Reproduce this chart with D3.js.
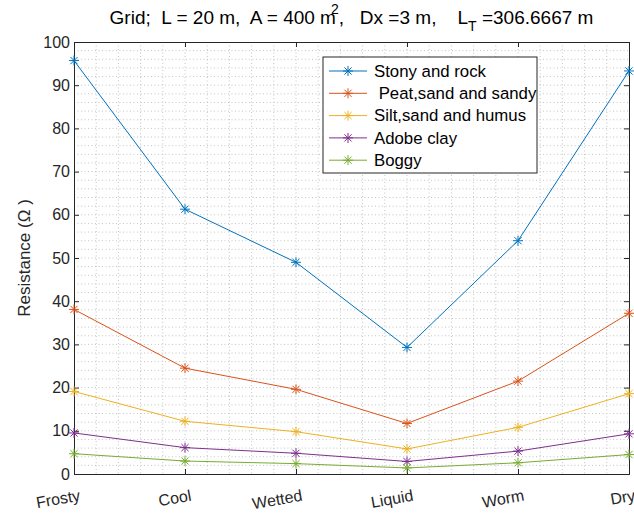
<!DOCTYPE html>
<head>
    <meta charset="utf-8">
    <style>
        body { margin: 0; background: #fff; }
        svg { position: absolute; top: 0; left: 0; font-family: 'Liberation Sans', Arial, sans-serif; }
        .axis text { font-size: 16px; fill: #262626; font-family: 'Liberation Sans', Arial, sans-serif; }
        .axis path, .axis line { stroke: #262626; }
        .grid line { stroke: #c4c4c4; stroke-dasharray: 1,2.5; }
    </style>
    <script src="https://d3js.org/d3.v7.min.js"></script>
</head>
<body>
<script>
    ////////////// Data //////////////
    const categories = ["Frosty", "Cool", "Wetted", "Liquid", "Worm", "Dry"]
    const seriesNames = ["Stony and rock", " Peat,sand and sandy", "Silt,sand and humus", "Adobe clay", "Boggy"]
    const stony = [95.7, 61.3, 49.0, 29.3, 54.0, 93.3]
    const peat = [38.1, 24.5, 19.6, 11.7, 21.5, 37.2]
    const silt = [19.1, 12.2, 9.8, 5.8, 10.8, 18.6]
    const adobe = [9.5, 6.1, 4.8, 2.9, 5.3, 9.3]
    const boggy = [4.7, 3.0, 2.4, 1.4, 2.6, 4.5]
    const yTicks = [0, 10, 20, 30, 40, 50, 60, 70, 80, 90, 100]
    const colors = ["#0072BD", "#D95319", "#EDB120", "#7E2F8E", "#77AC30"]
    const series = [stony, peat, silt, adobe, boggy]

    ////////////// Layout //////////////
    const margin = {top: 42, right: 5, bottom: 41, left: 74}
    const W = 634, H = 515
    const width = W - margin.left - margin.right,
          height = H - margin.top - margin.bottom

    const svg = d3.select("body").append("svg")
        .attr("width", W).attr("height", H)
    const g = svg.append("g")
        .attr("transform", "translate(" + margin.left + "," + margin.top + ")")

    ////////////// Scales //////////////
    const x = d3.scalePoint().domain(categories).range([0, width])
    const xIdx = d3.scaleLinear().domain([0, categories.length - 1]).range([0, width])
    const y = d3.scaleLinear().domain([0, 100]).range([height, 0])

    ////////////// Grid //////////////
    const grid = g.append("g").attr("class", "grid")
    grid.selectAll(".gy").data(d3.range(2, 100, 2)).join("line")
        .attr("x1", 0).attr("x2", width)
        .attr("y1", d => y(d)).attr("y2", d => y(d))
    grid.selectAll(".gx").data(d3.range(1, 25)).join("line")
        .attr("x1", d => xIdx(d / 5)).attr("x2", d => xIdx(d / 5))
        .attr("y1", 0).attr("y2", height)

    ////////////// Axes //////////////
    g.append("g").attr("class", "axis")
        .call(d3.axisLeft(y).tickValues(yTicks).tickSize(-5).tickPadding(4))
    g.append("g").attr("class", "axis")
        .attr("transform", "translate(" + width + ",0)")
        .call(d3.axisRight(y).tickValues(yTicks).tickSize(-5).tickFormat(""))
    g.append("g").attr("class", "axis")
        .call(d3.axisTop(x).tickSize(-5).tickFormat(""))
    const xAxis = g.append("g").attr("class", "axis")
        .attr("transform", "translate(0," + height + ")")
        .call(d3.axisBottom(x).tickSize(-5).tickFormat(""))
    xAxis.selectAll(".lbl").data(categories).join("text")
        .attr("class", "lbl")
        .attr("text-anchor", "end")
        .attr("font-size", 16.5)
        .attr("transform", d => "translate(" + (x(d) + 6) + ",21) rotate(-10)")
        .attr("dy", "0.35em")
        .text(d => d)
    g.selectAll(".axis path").attr("stroke-width", 1)

    ////////////// Lines & markers //////////////
    const line = d3.line().x((d, i) => x(categories[i])).y(d => y(d))
    const star = r => {
        const k = r * 0.72
        return "M" + -r + ",0L" + r + ",0M0," + -r + "L0," + r +
            "M" + -k + "," + -k + "L" + k + "," + k + "M" + -k + "," + k + "L" + k + "," + -k
    }
    series.forEach((s, si) => {
        g.append("path").datum(s)
            .attr("d", line).attr("fill", "none")
            .attr("stroke", colors[si]).attr("stroke-width", 1)
        g.selectAll(".m" + si).data(s).join("path")
            .attr("transform", (d, i) => "translate(" + x(categories[i]) + "," + y(d) + ")")
            .attr("d", star(5)).attr("stroke", colors[si]).attr("stroke-width", 1).attr("fill", "none")
    })

    ////////////// Legend //////////////
    const leg = svg.append("g").attr("transform", "translate(323,57)")
    leg.append("rect").attr("width", 214).attr("height", 116)
        .attr("fill", "#fff").attr("stroke", "#262626").attr("stroke-width", 1)
    seriesNames.forEach((n, i) => {
        const ry = 14 + i * 22.3
        leg.append("line").attr("x1", 6).attr("x2", 44).attr("y1", ry).attr("y2", ry)
            .attr("stroke", colors[i]).attr("stroke-width", 1)
        leg.append("path").attr("transform", "translate(25," + ry + ")")
            .attr("d", star(5)).attr("stroke", colors[i]).attr("fill", "none")
        leg.append("text").attr("x", 51).attr("y", ry).attr("dy", "0.35em")
            .attr("font-size", 16.8).attr("fill", "#000")
            .style("white-space", "pre").attr("xml:space", "preserve")
            .text(n)
    })

    ////////////// Titles //////////////
    const title = svg.append("text")
        .attr("x", margin.left + width / 2).attr("y", 24)
        .attr("text-anchor", "middle").attr("font-size", 19).attr("fill", "#000")
        .attr("xml:space", "preserve").style("white-space", "pre")
    title.append("tspan").text("Grid;  L = 20 m,  A = 400 m")
    title.append("tspan").attr("dy", -10).attr("dx", -5).attr("font-size", 14).text("2")
    title.append("tspan").attr("dy", 10).text(",   Dx =3 m,    L")
    title.append("tspan").attr("dy", 7).attr("font-size", 14).text("T")
    title.append("tspan").attr("dy", -7).text(" =306.6667 m")

    svg.append("text")
        .attr("transform", "translate(30," + (margin.top + height / 2) + ") rotate(-90)")
        .attr("text-anchor", "middle").attr("font-size", 17).attr("fill", "#262626")
        .attr("xml:space", "preserve").style("white-space", "pre")
        .text("Resistance (\u03A9 )")
</script>
</body>
